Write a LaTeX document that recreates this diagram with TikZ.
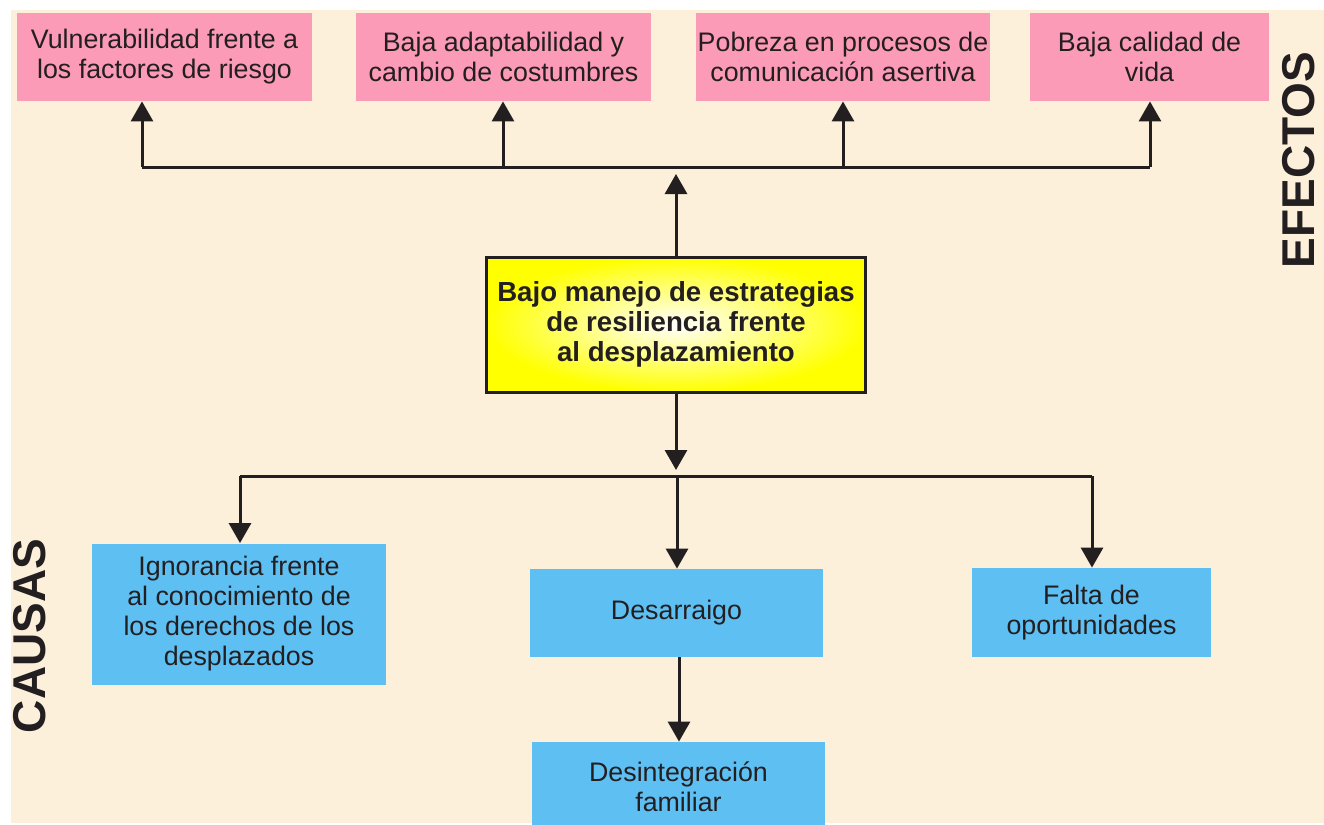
\documentclass[tikz,border=0pt]{standalone}
\usepackage{fontspec}
\setmainfont{Liberation Sans}
\usetikzlibrary{arrows.meta}
\definecolor{bgbeige}{HTML}{FCF0DA}
\definecolor{pinkbox}{HTML}{FC9BB7}
\definecolor{bluebox}{HTML}{5EBFF3}
\definecolor{ink}{HTML}{231F20}
\tikzset{
  effbox/.style={fill=pinkbox, inner sep=0pt, align=center, text=ink,
    font=\fontsize{13.4}{15}\selectfont, minimum height=44pt},
  causebox/.style={fill=bluebox, inner sep=0pt, align=center, text=ink,
    font=\fontsize{13.4}{15}\selectfont},
  corebox/.style={draw=ink, line width=1.5pt, inner color=white, outer color=yellow,
    inner sep=0pt, align=center, text=ink, font=\bfseries\fontsize{13.8}{15}\selectfont},
  conn/.style={draw=ink, line width=1.5pt},
  arr/.style={conn, -{Triangle[length=10pt,width=11pt]}},
  sidelabel/.style={text=ink, font=\bfseries\fontsize{23}{23}\selectfont, rotate=90, inner sep=0pt}
}
\begin{document}
\begin{tikzpicture}[x=0.5pt,y=-0.5pt]
\useasboundingbox (0,0) rectangle (1324,825);
\fill[white] (0,0) rectangle (1324,825);
\fill[bgbeige] (11,10) rectangle (1324,823);

% effects
\node[effbox, minimum width=147.5pt] (p1) at (164.5,57) {Vulnerabilidad frente a\\los factores de riesgo};
\node[effbox, minimum width=147.5pt] (p2) at (503.5,57) {Baja adaptabilidad y\\cambio de costumbres};
\node[effbox, minimum width=147pt] (p3) at (843,57) {Pobreza en procesos de\\comunicación asertiva};
\node[effbox, minimum width=119.5pt] (p4) at (1149.5,57) {Baja calidad de\\vida};

% core problem
\node[corebox, minimum width=189.5pt, minimum height=67.5pt] (c) at (676,324.5)
  {Bajo manejo de estrategias\\de resiliencia frente\\al desplazamiento};

% causes
\node[causebox, minimum width=147pt, minimum height=70.5pt] (b1) at (239,614)
  {Ignorancia frente\\al conocimiento de\\los derechos de los\\desplazados};
\node[causebox, minimum width=146.5pt, minimum height=44pt] (b2) at (676.5,613) {Desarraigo};
\node[causebox, minimum width=119.5pt, minimum height=44.5pt] (b3) at (1091.5,612.5) {Falta de\\oportunidades};
\node[causebox, minimum width=146.5pt, minimum height=45pt] (b4) at (678.5,787) {Desintegración\\familiar};

% side labels
\node[sidelabel] (causas) at (30,636) {CAUSAS};
\node[sidelabel] (efectos) at (1299,160) {EFECTOS};

% top connectors
\coordinate (t1) at (142,167);
\coordinate (t2) at (503,167);
\coordinate (t3) at (843,167);
\coordinate (t4) at (1150,167);
\coordinate (tc) at (676,174);
\draw[conn] (t1) -- (t4);
\draw[arr] (t1) -- (t1 |- p1.south);
\draw[arr] (t2) -- (t2 |- p2.south);
\draw[arr] (t3) -- (t3 |- p3.south);
\draw[arr] (t4) -- (t4 |- p4.south);
\draw[arr] (c.north) -- (tc);

% bottom connectors
\coordinate (bc) at (676,470);
\coordinate (d1) at (240,476);
\coordinate (d2) at (677,476);
\coordinate (d3) at (1092,476);
\draw[arr] (c.south) -- (bc);
\draw[conn] (d1) -- (d3);
\draw[arr] (d1) -- (d1 |- b1.north);
\draw[arr] (d2) -- (d2 |- b2.north);
\draw[arr] (d3) -- (d3 |- b3.north);
\coordinate (e2) at (679,657);
\draw[arr] (e2) -- (e2 |- b4.north);
\end{tikzpicture}
\end{document}
